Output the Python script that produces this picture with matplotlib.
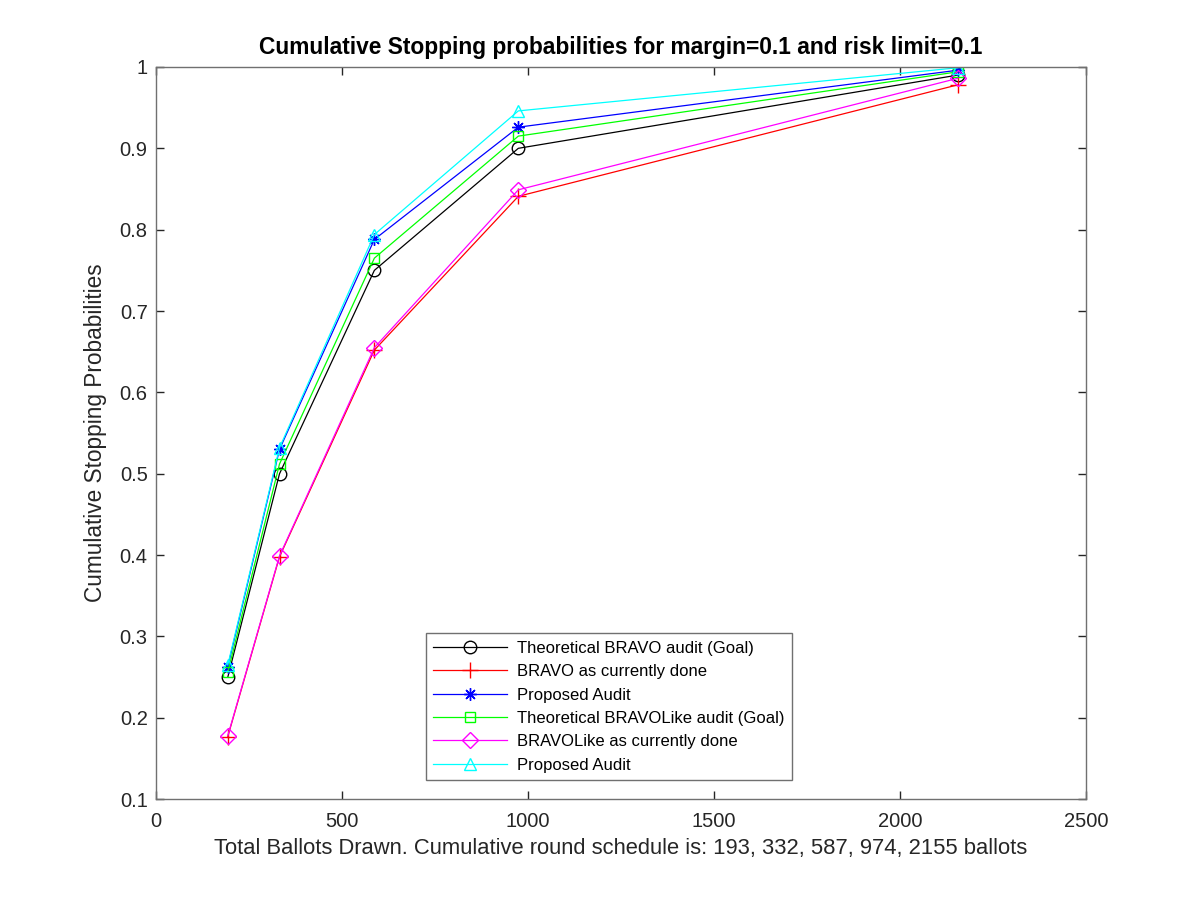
import matplotlib
matplotlib.use("Agg")
import matplotlib.pyplot as plt

plt.rcParams['font.family'] = ['Liberation Sans', 'DejaVu Sans']

ballots = [193, 332, 587, 974, 2155]
theo_bravo = [0.250, 0.500, 0.750, 0.900, 0.990]
bravo_current = [0.177, 0.398, 0.652, 0.841, 0.978]
proposed_bravo = [0.263, 0.530, 0.788, 0.926, 0.996]
theo_bravolike = [0.256, 0.512, 0.765, 0.915, 0.994]
bravolike_current = [0.178, 0.399, 0.655, 0.849, 0.986]
proposed_bravolike = [0.265, 0.532, 0.794, 0.946, 0.999]

labels = ["Theoretical BRAVO audit (Goal)", "BRAVO as currently done", "Proposed Audit",
          "Theoretical BRAVOLike audit (Goal)", "BRAVOLike as currently done", "Proposed Audit"]
series = [theo_bravo, bravo_current, proposed_bravo, theo_bravolike, bravolike_current, proposed_bravolike]
colors = ['black', '#ff0000', '#0000ff', '#00ff00', '#ff00ff', '#00ffff']
markers = ['o', '+', (8, 2, 0), 's', 'D', '^']
msizes = [9, 11, 9, 7, 8, 9]

fig = plt.figure(figsize=(12, 9), dpi=100)
ax = fig.add_axes([0.13, 0.112, 0.775, 0.8136])

for y, c, m, ms, lab in zip(series, colors, markers, msizes, labels):
    ax.plot(ballots, y, color=c, marker=m, markersize=ms, markerfacecolor='none',
            markeredgecolor=c, markeredgewidth=1.0, linewidth=0.9, label=lab)

ax.set_xlim(0, 2500)
ax.set_ylim(0.1, 1.0)
ax.set_xticks([0, 500, 1000, 1500, 2000, 2500])
ax.set_yticks([0.1, 0.2, 0.3, 0.4, 0.5, 0.6, 0.7, 0.8, 0.9, 1.0])
ax.set_yticklabels(['0.1', '0.2', '0.3', '0.4', '0.5', '0.6', '0.7', '0.8', '0.9', '1'])

for s in ax.spines.values():
    s.set_color('#707070')
    s.set_linewidth(1.0)
ax.tick_params(direction='in', top=True, right=True, length=6, width=1.0,
               color='#262626', labelsize=14.5, labelcolor='#262626')
ax.tick_params(axis='x', pad=9)
ax.tick_params(axis='y', pad=6)

ax.set_xlabel("Total Ballots Drawn. Cumulative round schedule is: 193, 332, 587, 974, 2155 ballots",
              fontsize=15.8, color='#262626', labelpad=5)
ax.set_ylabel("Cumulative Stopping Probabilities", fontsize=16.3, color='#262626', labelpad=9)
ax.set_title("Cumulative Stopping probabilities for margin=0.1 and risk limit=0.1",
             fontsize=16.4, fontweight='bold', pad=9)

leg = ax.legend(loc='lower left', bbox_to_anchor=(0.290, 0.026), fontsize=12,
                frameon=True, fancybox=False, framealpha=1, edgecolor='#707070',
                handlelength=4.4, labelspacing=0.5, borderpad=0.45, handletextpad=0.6,
                borderaxespad=0)
leg.get_frame().set_linewidth(1.0)

fig.savefig("out.png", dpi=100, facecolor='white')
